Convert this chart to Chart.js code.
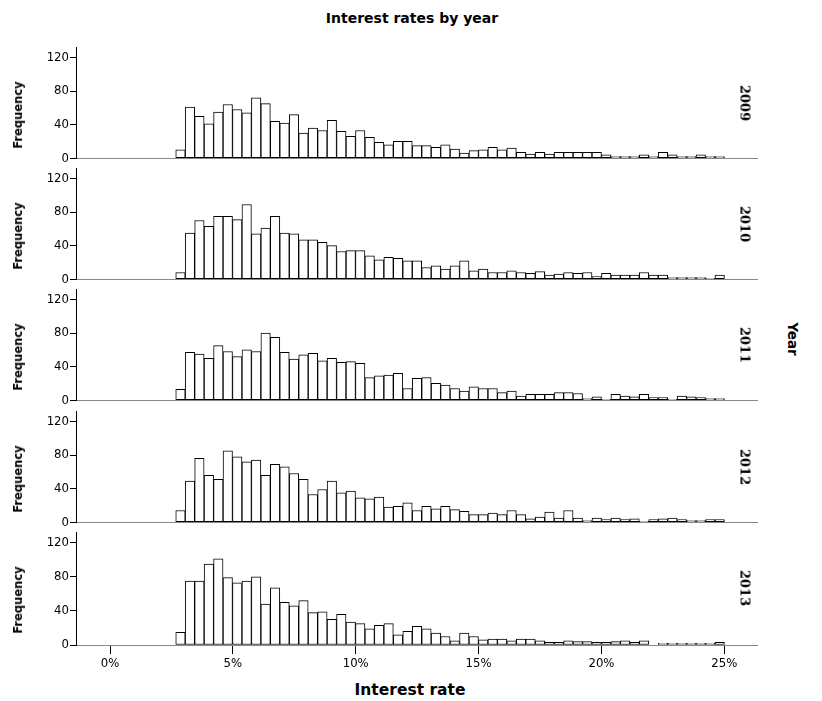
<!DOCTYPE html>
<html>
<head>
<meta charset="utf-8">
<title>Interest rates by year</title>
<script src="https://cdn.jsdelivr.net/npm/chart.js@4.4.1/dist/chart.umd.min.js"></script>
<style>
    body { margin: 0; background: #fff; }
    #wrap { position: relative; width: 822px; height: 701px; overflow: hidden; background: #fff; }
    #wrap canvas { position: absolute; left: 0; }
    .lbl { position: absolute; white-space: nowrap; color: #000; transform: translate(-50%, -50%); }
    .title { font: bold 14px 'DejaVu Sans', sans-serif; }
    .xtitle { font: bold 15.5px 'DejaVu Sans', sans-serif; }
    .freq { font: bold 11.5px 'DejaVu Sans', sans-serif; transform: translate(-50%, -50%) rotate(-90deg); }
    .year { font: bold 13px 'DejaVu Serif', serif; transform: translate(-50%, -50%) rotate(90deg); }
    .yearTitle { font: bold 13.5px 'DejaVu Sans', sans-serif; transform: translate(-50%, -50%) rotate(90deg); }
</style>
</head>
<body>
<div id="wrap">
    <div class="lbl title" style="left:412px; top:18px;">Interest rates by year</div>
    <div class="lbl xtitle" style="left:410px; top:690px;">Interest rate</div>
    <div class="lbl yearTitle" style="left:793px; top:339px;">Year</div>
</div>
<script>
// Panels (one per year)
const years = ['2009', '2010', '2011', '2012', '2013'];

// Histogram bins: lower edge of first bin and bin width, in percent
const binStart = 2.675;
const binWidth = 0.385;

// Frequencies per bin
const freq2009 = [10, 61, 50, 41, 55, 64, 58, 54, 72, 65, 44, 42, 52, 30, 36, 33, 45, 32, 26, 33,
    25, 19, 16, 20, 20, 15, 15, 13, 16, 11, 6, 9, 10, 13, 10, 12, 7, 5, 7, 5,
    7, 7, 7, 7, 7, 4, 2, 2, 2, 4, 2, 7, 4, 2, 2, 4, 2, 2];
const freq2010 = [8, 55, 70, 63, 75, 75, 71, 89, 54, 61, 75, 55, 54, 47, 47, 44, 40, 33, 34, 34,
    28, 23, 26, 25, 22, 22, 14, 16, 12, 16, 22, 10, 12, 8, 8, 10, 8, 7, 9, 5,
    6, 8, 7, 8, 3, 7, 5, 5, 5, 8, 5, 5, 2, 2, 2, 2, 1, 5];
const freq2011 = [13, 57, 55, 50, 65, 58, 52, 60, 58, 80, 75, 57, 49, 54, 56, 47, 50, 45, 46, 44,
    27, 29, 30, 32, 14, 26, 27, 20, 18, 14, 11, 16, 14, 14, 9, 11, 5, 7, 7, 7,
    9, 9, 8, 2, 4, 1, 7, 5, 4, 7, 3, 3, 1, 5, 4, 3, 2, 2];
const freq2012 = [14, 49, 76, 56, 51, 85, 78, 72, 74, 56, 69, 66, 58, 51, 33, 39, 49, 35, 37, 29,
    28, 30, 18, 19, 23, 14, 19, 16, 19, 15, 13, 9, 9, 11, 9, 14, 9, 4, 6, 12,
    5, 14, 5, 2, 5, 3, 5, 3, 4, 1, 3, 4, 5, 3, 2, 2, 3, 3];
const freq2013 = [15, 75, 75, 95, 101, 79, 73, 75, 80, 48, 67, 50, 46, 52, 38, 39, 30, 36, 27, 25,
    19, 23, 25, 12, 16, 22, 19, 14, 10, 5, 14, 10, 6, 7, 7, 5, 7, 7, 5, 3,
    3, 5, 4, 4, 3, 3, 4, 5, 3, 5, null, 2, 2, 2, 2, 2, 2, 3];

const series = [freq2009, freq2010, freq2011, freq2012, freq2013];

// Tick labels
const xTicks = [0, 5, 10, 15, 20, 25];
const yTicks = [0, 40, 80, 120];

// Layout (pixels): top edge of each plot area
const panelTops = [47, 168, 289, 411, 532];
const plotHeight = 113;
const padTop = 8;
const xMin = -1.384;
const xMax = 26.33;
const tickFont = "'DejaVu Sans Condensed', 'DejaVu Sans', sans-serif";

const wrap = document.getElementById('wrap');
const binCenters = series[0].map((v, k) => binStart + (k + 0.5) * binWidth);

function addLabel(cls, text, x, y) {
    const el = document.createElement('div');
    el.className = 'lbl ' + cls;
    el.textContent = text;
    el.style.left = x + 'px';
    el.style.top = y + 'px';
    wrap.appendChild(el);
}

years.forEach((year, i) => {
    const last = i === years.length - 1;
    const xHeight = last ? 56 : 7;

    const canvas = document.createElement('canvas');
    canvas.width = 822;
    canvas.height = padTop + plotHeight + xHeight;
    canvas.style.top = (panelTops[i] - padTop) + 'px';
    wrap.appendChild(canvas);

    addLabel('freq', 'Frequency', 18, panelTops[i] + 68);
    addLabel('year', year, 745, panelTops[i] + 56);

    new Chart(canvas.getContext('2d'), {
        type: 'bar',
        data: {
            datasets: [{
                label: year,
                data: binCenters.map((x, k) => ({ x: x, y: series[i][k] })),
                backgroundColor: '#fff',
                borderColor: '#000',
                borderWidth: 1,
                borderSkipped: false,
                barPercentage: 1,
                categoryPercentage: 1
            }]
        },
        options: {
            responsive: false,
            animation: false,
            events: [],
            layout: { padding: { top: padTop, right: 65, bottom: 0, left: 0 } },
            plugins: { legend: { display: false }, tooltip: { enabled: false } },
            scales: {
                x: {
                    type: 'linear',
                    min: xMin,
                    max: xMax,
                    offset: false,
                    afterFit: (s) => { s.height = xHeight; },
                    afterBuildTicks: (s) => { s.ticks = xTicks.map(v => ({ value: v })); },
                    grid: { display: last, offset: false, drawOnChartArea: false, tickLength: 9, color: '#000' },
                    border: { display: true, color: '#888' },
                    ticks: {
                        display: last,
                        autoSkip: false,
                        maxRotation: 0,
                        padding: 2,
                        color: '#000',
                        font: { family: tickFont, size: 13 },
                        callback: (v) => v + '%'
                    }
                },
                y: {
                    min: 0,
                    max: 131.6,
                    afterFit: (s) => { s.width = 76; },
                    afterBuildTicks: (s) => { s.ticks = yTicks.map(v => ({ value: v })); },
                    grid: { drawOnChartArea: false, tickLength: 6, color: '#000' },
                    border: { color: '#000' },
                    ticks: { padding: 1, color: '#000', font: { family: tickFont, size: 13 } }
                }
            }
        }
    });
});
</script>
</body>
</html>
